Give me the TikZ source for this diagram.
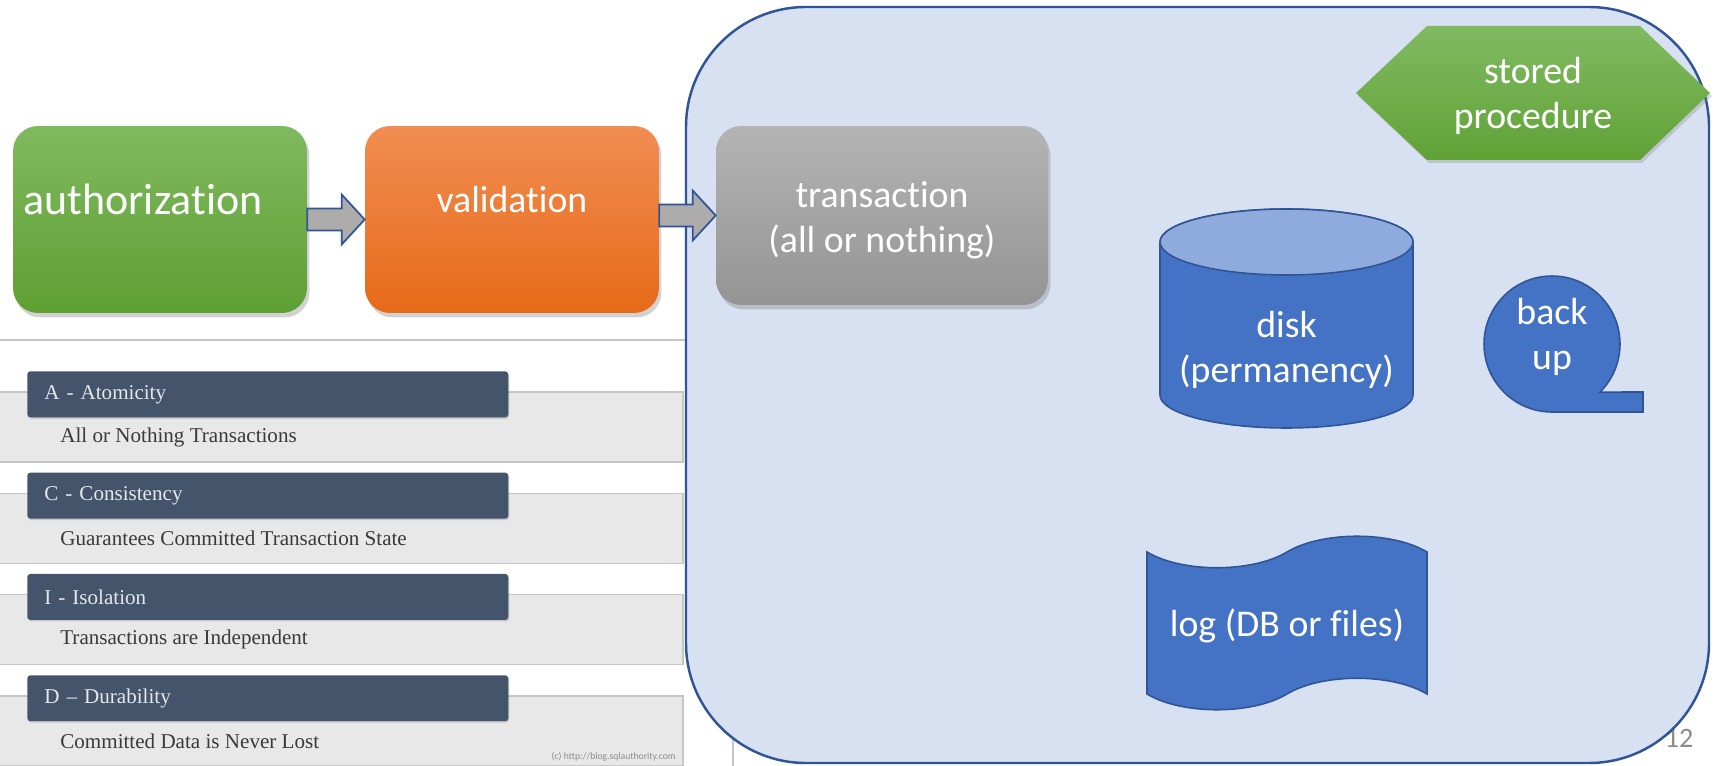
\documentclass[tikz,border=0pt]{standalone}
\usepackage{fontspec}
\setmainfont{Carlito}[Ligatures={NoCommon}]
\newfontfamily\acidfont{Liberation Serif}
\usetikzlibrary{calc,shadows}

\definecolor{greenT}{HTML}{80BA5F}
\definecolor{greenB}{HTML}{5E9F33}
\definecolor{orangeT}{HTML}{F18D52}
\definecolor{orangeB}{HTML}{E66A18}
\definecolor{grayT}{HTML}{B4B4B4}
\definecolor{grayB}{HTML}{949494}
\definecolor{spT}{HTML}{81BA62}
\definecolor{spB}{HTML}{60A236}
\definecolor{dbfill}{HTML}{D8E1F2}
\definecolor{dbline}{HTML}{2F5597}
\definecolor{accent}{HTML}{4472C4}
\definecolor{accentlight}{HTML}{8FAADC}
\definecolor{arrgray}{HTML}{AEABAB}
\definecolor{slate}{HTML}{44546A}
\definecolor{headtext}{HTML}{E4E7EC}
\definecolor{desctext}{HTML}{3A3A3A}
\definecolor{band}{HTML}{E8E8E8}
\definecolor{bandline}{HTML}{C6C6C6}
\definecolor{pagegray}{HTML}{8C8C8C}

\begin{document}
\begin{tikzpicture}[x=0.02cm, y=-0.02cm,
    every node/.style={font=\fontsize{21.5}{25.5}\selectfont, text=white, align=center, inner sep=0pt},
    stage/.style={rounded corners=0.5cm, minimum width=5.88cm, minimum height=3.74cm,
        drop shadow={shadow xshift=0.05cm, shadow yshift=-0.09cm, opacity=0.35}},
    blockarr/.style={draw=dbline, fill=arrgray, line width=1pt},
    storage/.style={draw=dbline, fill=accent, line width=0.9pt},
    acidhead/.style={anchor=north west, fill=slate, rounded corners=0.06cm, minimum height=0.92cm,
        text width=8.94cm, inner xsep=0.34cm, align=left, text=headtext,
        font=\acidfont\fontsize{12}{14}\selectfont,
        drop shadow={shadow xshift=0.02cm, shadow yshift=-0.03cm, opacity=0.3}},
    aciddesc/.style={anchor=west, text=desctext, align=left, font=\acidfont\fontsize{12}{14}\selectfont},
]

    % Parameters
    \def\ah{23}   % arrow head length
    \def\aw{11}   % arrow shaft half height
    \def\ahw{25}  % arrow head half height

    \fill[white] (0,0) rectangle (1721,766);
    \useasboundingbox (0,0) rectangle (1721,766);

    % =====================================================
    % ACID panel (left, bottom)
    % =====================================================
    \draw[bandline, line width=0.8pt] (0,340) -- (733,340) -- (733,766);

    \foreach \t/\d [count=\i from 0] in {A - Atomicity/All or Nothing Transactions,
            C - Consistency/Guarantees Committed Transaction State,
            I - Isolation/Transactions are Independent,
            D – Durability/Committed Data is Never Lost} {
        \pgfmathsetmacro\yy{371+101.3*\i}
        \draw[draw=bandline, fill=band, line width=0.8pt] (-2,\yy+21) rectangle (683,\yy+91);
        \node[acidhead] (hdr\i) at (27,\yy) {\t};
        \node[aciddesc] (desc\i) at (60,\yy+66) {\d};
    }

    \node[anchor=south east, text=pagegray, font=\fontsize{5.5}{6}\selectfont] (credit) at (676,762)
        {(c) http://blog.sqlauthority.com};

    % page number sits behind the server box
    \node[text=pagegray, font=\fontsize{16}{18}\selectfont] (pgnum) at (1679,738) {12};

    % =====================================================
    % Server box
    % =====================================================
    \draw[draw=dbline, fill=dbfill, line width=1.4pt, rounded corners=2.4cm] (686,7) rectangle (1709,763);

    % =====================================================
    % Pipeline
    % =====================================================
    \node[stage, top color=greenT, bottom color=greenB] (auth) at (160,219.5) {};
    \node[font=\fontsize{25}{30}\selectfont] (authtxt) at ($(auth.center)+(-17,-20)$) {authorization};

    \node[stage, top color=orangeT, bottom color=orangeB] (valid) at (512,219.5) {};
    \node (validtxt) at ($(valid.center)+(0,-20)$) {validation};

    \node[stage, top color=grayT, bottom color=grayB, minimum width=6.64cm, minimum height=3.58cm]
        (trans) at (882,215.5) {};
    \node (transtxt) at ($(trans.center)+(0,5)$) {transaction\\(all or nothing)};

    \foreach \a/\b in {auth/valid, valid/trans} {
        \draw[blockarr] ($(\a.east|-\b.west)+(0,-\aw)$) -- ($(\b.west)+(-\ah,-\aw)$)
            -- ($(\b.west)+(-\ah,-\ahw)$) -- (\b.west) -- ($(\b.west)+(-\ah,\ahw)$)
            -- ($(\b.west)+(-\ah,\aw)$) -- ($(\a.east|-\b.west)+(0,\aw)$) -- cycle;
    }

    % =====================================================
    % Stored procedure
    % =====================================================
    \shade[top color=spT, bottom color=spB,
        drop shadow={shadow xshift=0.04cm, shadow yshift=-0.06cm, opacity=0.3}]
        (1356,93) -- (1427,26) -- (1640,26) -- (1710,93) -- (1640,160) -- (1427,160) -- cycle;
    \node (sp) at (1533,96) {stored\\procedure};

    % =====================================================
    % Storage
    % =====================================================
    \draw[storage] (1160,242) -- (1160,395) arc[start angle=180, end angle=360, x radius=2.53cm, y radius=0.66cm]
        -- (1413,242) arc[start angle=0, end angle=180, x radius=2.53cm, y radius=0.66cm] -- cycle;
    \draw[storage, fill=accentlight] (1286.5,242) ellipse[x radius=2.53cm, y radius=0.66cm];
    \node (disk) at (1286.5,350) {disk\\(permanency)};

    \draw[storage] (1552,412) arc[start angle=270, end angle=-45, radius=1.36cm]
        -- (1643,392) -- (1643,412) -- cycle;
    \node (backup) at (1552,337) {back\\up};

    \draw[storage] (1147,552) .. controls (1182,573) and (1252,573) .. (1287,552)
        .. controls (1322,531) and (1392,531) .. (1427,552) -- (1427,694)
        .. controls (1392,673) and (1322,673) .. (1287,694)
        .. controls (1252,715) and (1182,715) .. (1147,694) -- cycle;
    \node (log) at (1287,626) {log (DB or files)};

\end{tikzpicture}
\end{document}
